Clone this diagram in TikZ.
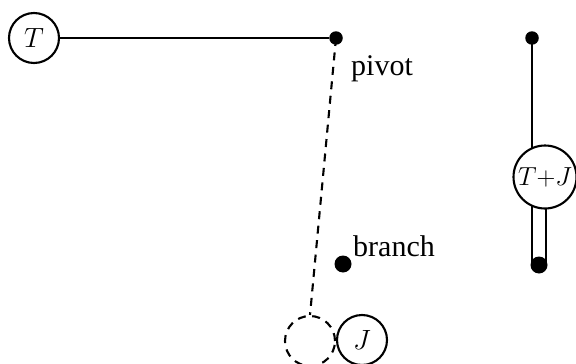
\documentclass[tikz,border=0pt]{standalone}
\usepackage{fontspec}
\setmainfont{Liberation Serif}
\usetikzlibrary{backgrounds}
\newcommand{\ringmath}[2]{\scalebox{#1}{$#2$}}
\begin{document}
\begin{tikzpicture}[x=1pt,y=-1pt,
  conn/.style={line width=2.1pt},
  ring/.style={circle,draw,line width=2.1pt,fill=white,inner sep=0pt,minimum size=50pt,font=\fontsize{24.88}{30}\selectfont},
  dot/.style={circle,fill=black,inner sep=0pt,minimum size=#1},
  lbl/.style={anchor=base west,inner sep=0pt,font=\fontsize{30}{36}\selectfont},
  dashpat/.style={line width=2.1pt,dash pattern=on 8pt off 6.5pt}]
\useasboundingbox (0,0) rectangle (576,364);
\node[ring] (t) at (34,38) {\ringmath{1.12}{T}};
\node[dot=13.5pt] (pivot) at (336,38) {};
\node[lbl] (lp) at (351,75) {pivot};
\node[dot=17pt] (branch) at (343,264) {};
\node[lbl] (lb) at (353,256) {branch};
\node[ring,draw=none,fill=none] (jd) at (310,341) {};
\draw[dashpat] (jd.center) circle[radius=25pt];
\node[ring] (j) at (362,340) {\ringmath{1.12}{J}};
\node[dot=13.5pt] (top) at (532,38) {};
\node[ring,minimum size=63pt] (tj) at (545,177) {\ringmath{1.05}{T{+}J}};
\node[dot=17pt] (bot) at (539,265) {};
\begin{pgfonlayer}{background}
\draw[conn] (t) -- (pivot);
\draw[dashpat] (pivot.center) -- (jd.north);
\draw[conn] (top.center) -- (top |- tj.center);
\draw[conn,double,double distance=12.5pt] (bot.center) -- (bot |- tj.center);
\end{pgfonlayer}
\end{tikzpicture}
\end{document}
